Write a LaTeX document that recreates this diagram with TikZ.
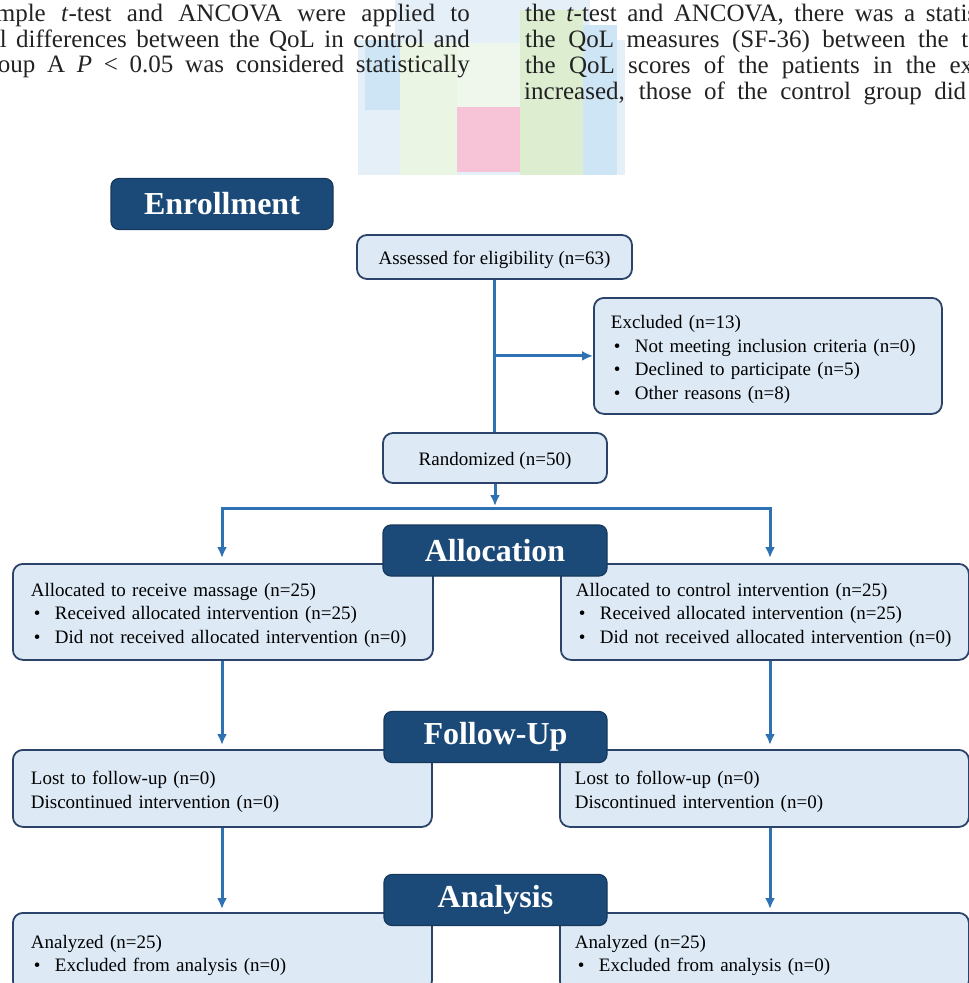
\documentclass[tikz,border=0pt]{standalone}
\usepackage{fontspec}
\newfontfamily\diagfont[WordSpace=0.75]{Liberation Serif}
\newfontfamily\headfont{Liberation Serif}
\usetikzlibrary{positioning,arrows.meta}
\definecolor{navy}{HTML}{1B4A78}
\definecolor{navyline}{HTML}{16385C}
\definecolor{boxfill}{HTML}{DDEAF6}
\definecolor{boxline}{HTML}{2B4368}
\definecolor{flow}{HTML}{2E72B4}
\definecolor{wmblue}{HTML}{CDE5F4}
\definecolor{wmpale}{HTML}{E5EFF8}
\definecolor{wmgreen}{HTML}{DDEED0}
\definecolor{wmlight}{HTML}{EFF6EB}
\definecolor{wmpink}{HTML}{F6C3D7}
\definecolor{pagetext}{HTML}{222222}
\newcommand{\bul}{\makebox[24pt][l]{\hspace{3pt}\textbullet}}
\newcommand{\topstrut}{\rule{0pt}{20pt}}
\newcommand{\pageline}[2]{\makebox[#1][s]{#2}}
\begin{document}
\begin{tikzpicture}[x=1pt,y=-1pt,
	stage/.style={draw=navyline,fill=navy,line width=1.2pt,rounded corners=8pt,text=white,font=\headfont\fontsize{32}{36}\selectfont\bfseries,minimum height=51pt,inner sep=0pt},
	infobox/.style={draw=boxline,fill=boxfill,line width=1.8pt,rounded corners=10pt,font=\diagfont\fontsize{19}{23.7}\selectfont,align=left,anchor=north west,inner xsep=18pt,inner ysep=2pt},
	midbox/.style={infobox,align=center,anchor=center,inner sep=0pt},
	pagefont/.style={font=\headfont\fontsize{25}{26}\selectfont,text=pagetext,inner sep=0pt},
	flowline/.style={draw=flow,line width=3pt},
	flowarrow/.style={flowline,-{Latex[length=11pt,width=10pt]}}]
	\useasboundingbox (0,0) rectangle (969,983);
	\clip (0,0) rectangle (969,983);
	% watermark of the journal page
	\fill[wmpale] (358,40) rectangle (625,175);
	\fill[wmpale] (395,0) rectangle (590,40);
	\fill[wmblue] (365,40) rectangle (400,110);
	\fill[wmgreen!60] (400,43) rectangle (457,175);
	\fill[wmlight] (457,43) rectangle (520,107);
	\fill[wmpink] (457,107) rectangle (520,172);
	\fill[wmgreen] (520,10) rectangle (583,175);
	\fill[wmblue] (583,25) rectangle (617,175);
	% page text
	\node[pagefont,anchor=east] (txtla) at (470,15) {\pageline{474pt}{mple \textit{t}-test and ANCOVA were applied to}};
	\node[pagefont,anchor=east] (txtlb) at (470,41) {\pageline{470pt}{l differences between the QoL in control and}};
	\node[pagefont,anchor=east] (txtlc) at (470,67) {\pageline{472pt}{oup A \textit{P} < 0.05 was considered statistically}};
	\node[pagefont,anchor=west] (txtra) at (525,15) {\pageline{452pt}{the \textit{t}-test and ANCOVA, there was a statis}};
	\node[pagefont,anchor=west] (txtrb) at (525,41) {\pageline{443pt}{the QoL measures (SF-36) between the t}};
	\node[pagefont,anchor=west] (txtrc) at (525,67) {\pageline{448pt}{the QoL scores of the patients in the ex}};
	\node[pagefont,anchor=west] (txtrd) at (524,93) {\pageline{442pt}{increased, those of the control group did}};
	% boxes
	\node[midbox,minimum width=275pt,minimum height=44pt] (assess) at (494.5,257) {\topstrut Assessed for eligibility (n=63)};
	\node[infobox,text width=314pt,minimum height=116pt,inner xsep=17pt] (excl) at (593,297) {\topstrut Excluded (n=13)\\\bul Not meeting inclusion criteria (n=0)\\\bul Declined to participate (n=5)\\\bul Other reasons (n=8)};
	\node[midbox,minimum width=224pt,minimum height=50pt] (rand) at (495,458) {\topstrut Randomized (n=50)};
	\node[infobox,text width=384pt,minimum height=96pt] (allocl) at (12,563) {\topstrut Allocated to receive massage (n=25)\\\bul Received allocated intervention (n=25)\\\bul Did not received allocated intervention (n=0)};
	\node[infobox,text width=378pt,minimum height=96pt,inner xsep=15pt] (allocr) at (560,563) {\topstrut Allocated to control intervention (n=25)\\\bul Received allocated intervention (n=25)\\\bul Did not received allocated intervention (n=0)};
	\node[infobox,text width=383pt,minimum height=77pt] (followl) at (12,749) {\topstrut Lost to follow-up (n=0)\\Discontinued intervention (n=0)};
	\node[infobox,text width=379pt,minimum height=77pt,inner xsep=15pt] (followr) at (559,749) {\topstrut Lost to follow-up (n=0)\\Discontinued intervention (n=0)};
	\node[infobox,text width=383pt,minimum height=78pt] (analyl) at (12,912) {\topstrut Analyzed (n=25)\\\bul Excluded from analysis (n=0)};
	\node[infobox,text width=379pt,minimum height=78pt,inner xsep=15pt] (analyr) at (559,912) {\topstrut Analyzed (n=25)\\\bul Excluded from analysis (n=0)};
	% stage headers
	\node[stage,minimum width=222pt] (enrol) at (222,204) {Enrollment};
	\node[stage,minimum width=224pt] (allocation) at (495,550.5) {Allocation};
	\node[stage,minimum width=223pt] (followup) at (495.5,737) {Follow-Up};
	\node[stage,minimum width=223pt] (analysis) at (495.5,900) {Analysis};
	% connectors
	\coordinate (split) at (495,508);
	\coordinate (lcol) at (222,508);
	\coordinate (rcol) at (770,508);
	\draw[flowline] (assess.south) -- (assess.south |- rand.north);
	\draw[flowarrow] (assess.south |- excl.west) -- (excl.west);
	\draw[flowarrow] (rand.south) -- ([yshift=2pt]split);
	\draw[flowarrow,shorten >=5pt] (split) -| (lcol |- allocl.north);
	\draw[flowarrow,shorten >=5pt] (split) -| (rcol |- allocr.north);
	\draw[flowarrow,shorten >=4pt] (lcol |- allocl.south) -- (lcol |- followl.north);
	\draw[flowarrow,shorten >=4pt] (rcol |- allocr.south) -- (rcol |- followr.north);
	\draw[flowarrow,shorten >=3pt] (lcol |- followl.south) -- (lcol |- analyl.north);
	\draw[flowarrow,shorten >=3pt] (rcol |- followr.south) -- (rcol |- analyr.north);
\end{tikzpicture}
\end{document}
